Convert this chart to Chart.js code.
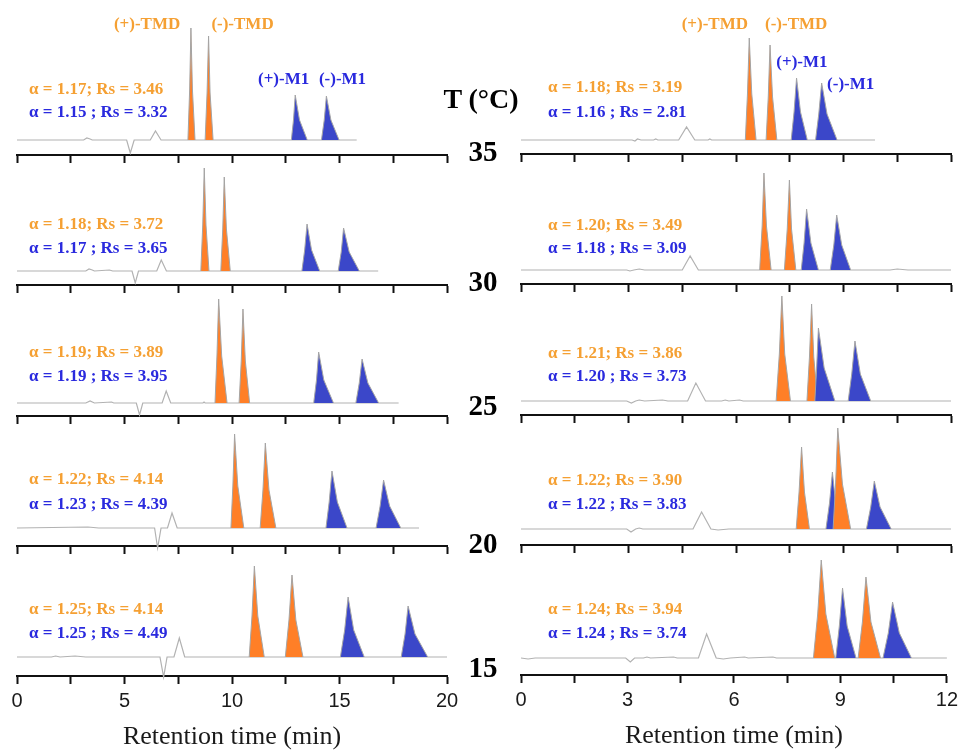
<!DOCTYPE html>
<html><head><meta charset="utf-8">
<script src="https://cdn.jsdelivr.net/npm/chart.js@4.4.1/dist/chart.umd.min.js"></script>
<style>
html,body{margin:0;padding:0;background:#fff;}
body{width:963px;height:751px;overflow:hidden;position:relative;}
canvas{position:absolute;}
.tl{position:absolute;font-family:"Liberation Serif","Times New Roman",serif;font-weight:bold;color:#000;transform:translate(-50%,-50%);white-space:nowrap;z-index:5;line-height:1;}
</style></head><body>
<script>
// ---------- DATA ----------
const temperatures = [35, 30, 25, 20, 15];
const leftTickLabels = [0, 5, 10, 15, 20];
const rightTickLabels = [0, 3, 6, 9, 12];

// alpha / Rs values
const leftTMDalpha = [1.17, 1.18, 1.19, 1.22, 1.25];
const leftTMDrs    = [3.46, 3.72, 3.89, 4.14, 4.14];
const leftM1alpha  = [1.15, 1.17, 1.19, 1.23, 1.25];
const leftM1rs     = [3.32, 3.65, 3.95, 4.39, 4.49];
const rightTMDalpha = [1.18, 1.20, 1.21, 1.22, 1.24];
const rightTMDrs    = [3.19, 3.49, 3.86, 3.90, 3.94];
const rightM1alpha  = [1.16, 1.18, 1.20, 1.22, 1.24];
const rightM1rs     = [2.81, 3.09, 3.73, 3.83, 3.74];

// peaks: [start, leftKnee, apex, rightKnee, end, apexHeight, kneeHeight]  (times in min)
const leftTMDplus  = [[7.95,8.03,8.09,8.16,8.28,112,50],[8.55,8.64,8.71,8.79,8.93,103,46],[9.21,9.30,9.38,9.52,9.77,104,47],[9.95,10.04,10.12,10.27,10.55,94,42],[10.80,10.93,11.04,11.20,11.50,91,41]];
const leftTMDminus = [[8.75,8.84,8.91,8.98,9.12,104,47],[9.48,9.57,9.64,9.74,9.92,94,42],[10.33,10.43,10.51,10.62,10.82,94,42],[11.31,11.44,11.55,11.72,12.04,85,38],[12.48,12.65,12.79,12.97,13.30,82,37]];
const leftM1plus   = [[12.76,12.86,12.94,13.14,13.50,45,20],[13.25,13.38,13.49,13.70,14.08,47,21],[13.80,13.93,14.03,14.27,14.72,51,23],[14.37,14.52,14.65,14.90,15.35,57,26],[15.04,15.24,15.40,15.66,16.15,60,27]];
const leftM1minus  = [[14.16,14.29,14.39,14.60,14.98,44,20],[14.94,15.08,15.19,15.45,15.92,43,19],[15.76,15.92,16.05,16.32,16.82,44,20],[16.70,16.89,17.05,17.33,17.85,48,22],[17.87,18.05,18.19,18.51,19.10,51,23]];
const rightTMDplus  = [[6.26,6.32,6.37,6.44,6.56,102,46],[6.66,6.73,6.78,6.85,6.98,97,44],[7.12,7.21,7.28,7.36,7.52,105,47],[7.68,7.76,7.83,7.91,8.05,82,37],[8.24,8.36,8.46,8.59,8.84,98,44]];
const rightTMDminus = [[6.84,6.90,6.95,7.02,7.14,95,43],[7.35,7.43,7.49,7.55,7.67,90,41],[7.98,8.05,8.11,8.17,8.28,97,44],[8.71,8.78,8.84,8.97,9.20,101,45],[9.50,9.62,9.72,9.86,10.13,81,36]];
const rightM1plus   = [[7.54,7.62,7.69,7.80,7.99,62,28],[7.82,7.90,7.97,8.09,8.30,61,27],[8.20,8.25,8.30,8.46,8.76,73,33],[8.51,8.61,8.69,8.78,8.95,57,26],[8.87,8.97,9.06,9.19,9.44,70,32]];
const rightM1minus  = [[8.22,8.31,8.39,8.54,8.82,57,26],[8.63,8.73,8.81,8.95,9.20,55,25],[9.13,9.23,9.32,9.47,9.76,60,27],[9.64,9.76,9.86,10.02,10.33,48,22],[10.20,10.35,10.47,10.66,11.00,56,25]];

// grey detector trace (baseline, system peaks) [time, signal]
const leftTrace = [
  [[0,0],[3.1,0],[3.25,2],[3.4,1],[3.5,0],[5.1,0],[5.27,-13],[5.45,0],[6.2,0],[6.44,9],[6.7,0],[15.8,0]],
  [[0,0],[3.2,0],[3.35,2],[3.5,1],[3.6,0],[4.3,1],[4.45,0],[5.35,0],[5.5,-12],[5.65,0],[6.5,0],[6.71,11],[6.95,0],[16.8,0]],
  [[0,0],[3.2,0],[3.4,2],[3.6,0],[4.4,1],[4.5,0],[5.55,0],[5.7,-12],[5.85,0],[6.75,0],[6.94,12],[7.15,0],[8.65,0],[8.7,1],[8.75,0],[17.75,0]],
  [[0,0],[3.3,1],[3.8,0],[6.4,0],[6.54,-20],[6.7,0],[7.0,0],[7.21,15],[7.45,0],[18.7,0]],
  [[0,0],[1.6,0],[1.8,1],[2.0,0],[2.7,1],[3.2,0],[6.65,0],[6.82,-20],[6.98,0],[7.3,0],[7.55,19],[7.8,0],[20,0]]
];
const rightTrace = [
  [[0,0],[3.1,0],[3.18,-1],[3.25,1],[3.35,0],[3.7,0],[3.76,1],[3.82,0],[4.4,0],[4.62,13],[4.85,0],[5.22,0],[5.27,1],[5.32,0],[9.88,0]],
  [[0,0],[2.95,0],[3.04,-1],[3.15,0],[3.3,1],[3.45,0],[4.5,0],[4.72,14],[4.95,0],[10.3,0],[10.5,1],[10.8,0],[12,0]],
  [[0,0],[2.95,0],[3.08,-2],[3.2,0],[3.3,1],[3.45,0],[3.95,1],[4.1,0],[4.65,0],[4.88,18],[5.15,0],[5.6,0],[5.7,1],[5.8,0],[6.1,1],[6.2,0],[12,0]],
  [[0,0],[2.95,0],[3.07,-3],[3.2,0],[3.3,1],[3.4,0],[4.8,0],[5.04,17],[5.3,0],[5.5,-1],[5.8,0],[12,0]],
  [[0,0],[0.2,-1],[0.4,0],[2.95,0],[3.08,-4],[3.2,0],[3.45,0],[3.55,1],[3.65,0],[4.3,1],[4.4,0],[5.0,0],[5.23,24],[5.5,0],[5.7,-1],[5.9,0],[6.3,1],[6.4,0],[7.1,1],[7.2,0],[12,0]]
];

// ---------- LAYOUT / STYLE ----------
const ORANGE = '#ff7f27', BLUE = '#3b47c9', GREY = '#b2b2b2';
const ORANGE_TXT = '#f5a033', BLUE_TXT = '#2a2ade';
const columns = [
  { left: 0, width: 464, padL: 17, padR: 17, xmax: 20, step: 2.5, tickLabels: leftTickLabels,
    axisY: [155, 285, 416, 546, 676], base: [15, 14, 13, 18, 19],
    textX: 12, orangeY: [65, 60, 63, 66, 66], blueY: [42, 36, 39, 41, 42],
    tmdA: leftTMDalpha, tmdR: leftTMDrs, m1A: leftM1alpha, m1R: leftM1rs,
    peaks: [leftTMDplus, leftTMDminus, leftM1plus, leftM1minus], trace: leftTrace,
    names: [{t:'(+)-TMD',x:6.05,y:115,c:ORANGE_TXT},{t:'(-)-TMD',x:10.49,y:115,c:ORANGE_TXT},{t:'(+)-M1',x:12.4,y:60,c:BLUE_TXT},{t:'(-)-M1',x:15.14,y:60,c:BLUE_TXT}] },
  { left: 504, width: 459, padL: 17, padR: 12, xmax: 12, step: 1.5, tickLabels: rightTickLabels,
    axisY: [154, 284, 415, 545, 675], base: [14, 14, 14, 16, 17],
    textX: 27, orangeY: [66, 58, 61, 64, 65], blueY: [41, 35, 38, 40, 41],
    tmdA: rightTMDalpha, tmdR: rightTMDrs, m1A: rightM1alpha, m1R: rightM1rs,
    peaks: [rightTMDplus, rightTMDminus, rightM1plus, rightM1minus], trace: rightTrace,
    names: [{t:'(+)-TMD',x:5.41,y:115,c:ORANGE_TXT},{t:'(-)-TMD',x:7.68,y:115,c:ORANGE_TXT},{t:'(+)-M1',x:7.84,y:77,c:BLUE_TXT},{t:'(-)-M1',x:9.2,y:55,c:BLUE_TXT}] }
];
const ANNOT_FONT = 'bold 17px "Liberation Serif", "Times New Roman", serif';

const annotPlugin = {
  id: 'annot',
  afterDatasetsDraw(chart, args, opts) {
    const ctx = chart.ctx, xs = chart.scales.x, ys = chart.scales.y, ca = chart.chartArea;
    ctx.save();
    ctx.textBaseline = 'middle';
    for (const t of (opts.texts || [])) {
      ctx.font = ANNOT_FONT;
      ctx.fillStyle = t.color;
      ctx.textAlign = t.align;
      const px = t.px != null ? ca.left + t.px : xs.getPixelForValue(t.x);
      const py = t.py != null ? ca.bottom - t.py : ys.getPixelForValue(t.y);
      ctx.fillText(t.text, px, py);
    }
    ctx.restore();
  }
};

function pts(arr) { return arr.map(p => ({ x: p[0], y: p[1] })); }
function peakPts(p) {
  return [{x:p[0],y:0},{x:p[1],y:p[6]},{x:p[2],y:p[5]},{x:p[3],y:p[6]},{x:p[4],y:0}];
}

function makePanel(ci, i) {
  const C = columns[ci];
  const axisY = C.axisY[i];
  const bottomRow = i === temperatures.length - 1;
  const A = i === 0 ? axisY : 128;
  const xh = bottomRow ? 75 : 10;
  const H = A + xh;
  const cv = document.createElement('canvas');
  cv.width = C.width; cv.height = H;
  cv.style.left = C.left + 'px'; cv.style.top = (axisY - A) + 'px';
  cv.style.width = C.width + 'px'; cv.style.height = H + 'px';
  document.body.appendChild(cv);

  const b = C.base[i];
  const datasets = [];
  datasets.push({ data: pts(C.trace[i]), borderColor: GREY, borderWidth: 1.2, fill: false });
  const colors = [ORANGE, ORANGE, BLUE, BLUE];
  const pk = C.peaks.map((arr, k) => ({ p: arr[i], c: colors[k] })).sort((a, c) => a.p[2] - c.p[2]);
  for (const q of pk) {
    datasets.push({ data: peakPts(q.p), borderColor: '#a4a4a4', borderWidth: 1, backgroundColor: q.c, fill: 'origin' });
  }
  const n = datasets.length;
  datasets.forEach((d, k) => { d.order = n - k; d.pointRadius = 0; d.tension = 0; d.clip = false; });

  const texts = [
    { text: 'α = ' + C.tmdA[i].toFixed(2) + '; Rs = ' + C.tmdR[i].toFixed(2), color: ORANGE_TXT, align: 'left', px: C.textX, py: C.orangeY[i] },
    { text: 'α = ' + C.m1A[i].toFixed(2) + ' ; Rs = ' + C.m1R[i].toFixed(2), color: BLUE_TXT, align: 'left', px: C.textX, py: C.blueY[i] }
  ];
  if (i === 0) for (const nm of C.names) texts.push({ text: nm.t, color: nm.c, align: 'center', x: nm.x, y: nm.y });

  new Chart(cv, {
    type: 'line',
    data: { datasets },
    plugins: [annotPlugin],
    options: {
      responsive: false, animation: false, devicePixelRatio: 1, events: [],
      layout: { padding: { left: C.padL, right: C.padR, top: 0, bottom: 0 } },
      plugins: { legend: { display: false }, tooltip: { enabled: false }, annot: { texts } },
      scales: {
        x: { type: 'linear', position: 'bottom', min: 0, max: C.xmax,
          ticks: { display: bottomRow, stepSize: C.step, autoSkip: false, maxRotation: 0, padding: 5,
            color: '#1a1a1a', font: { family: '"Liberation Sans", Arial, sans-serif', size: 20 },
            callback: v => C.tickLabels.some(t => Math.abs(t - v) < 1e-6) ? String(Math.round(v)) : '' },
          grid: { display: true, drawOnChartArea: false, drawTicks: true, tickLength: 8, tickWidth: 2, tickColor: '#111' },
          border: { display: true, color: '#111', width: 2 },
          title: { display: bottomRow, text: 'Retention time (min)', color: '#1a1a1a',
            font: { family: '"Liberation Serif", "Times New Roman", serif', size: 26, lineHeight: 1 }, padding: { top: 0, bottom: 1 } },
          afterFit: s => { s.height = xh; }
        },
        y: { type: 'linear', display: false, min: -b, max: A - b }
      }
    }
  });
}

for (let ci = 0; ci < columns.length; ci++)
  for (let i = 0; i < temperatures.length; i++) makePanel(ci, i);

// Temperature labels
const tempY = [151, 281, 405, 543, 667];
function addLabel(text, x, y, size) {
  const d = document.createElement('div');
  d.className = 'tl'; d.textContent = text;
  d.style.left = x + 'px'; d.style.top = y + 'px'; d.style.fontSize = size + 'px';
  document.body.appendChild(d);
}
addLabel('T (°C)', 481, 99, 28);
temperatures.forEach((t, i) => addLabel(String(t), 483, tempY[i], 29));
</script>
</body></html>
